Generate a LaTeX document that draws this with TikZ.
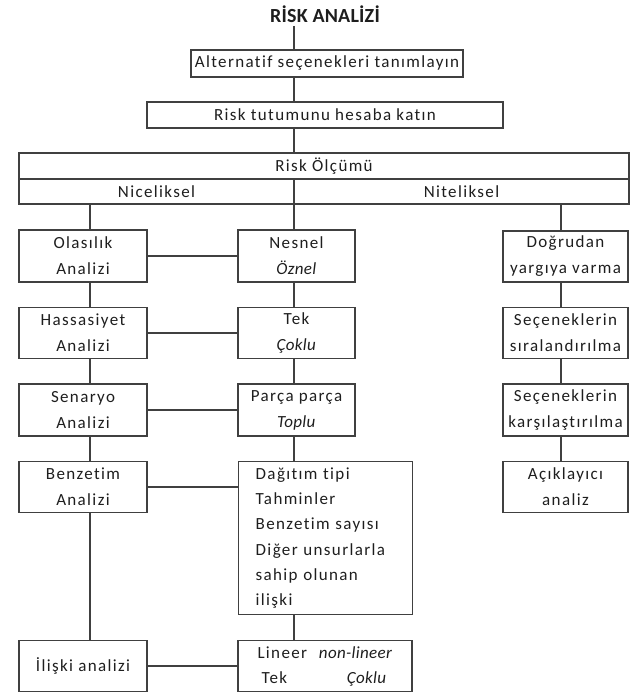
\documentclass[tikz,border=0pt]{standalone}
\usepackage{fontspec}
\setmainfont{Carlito}[LetterSpace=8,Ligatures=NoCommon,ItalicFeatures={LetterSpace=2},BoldFeatures={LetterSpace=1}]
\usetikzlibrary{calc}
\definecolor{ln}{HTML}{404040}
\definecolor{tx}{HTML}{1E1E1E}
\begin{document}
\begin{tikzpicture}[x=1pt,y=-1pt,
  box/.style={draw=ln, line width=1.4pt, inner sep=0pt, align=center, text=tx,
              font=\fontsize{17}{26}\selectfont},
  conn/.style={draw=ln, line width=1.4pt}]
\useasboundingbox (0,0) rectangle (630,697);

% column connector lines
\coordinate (cL) at (90,0);
\coordinate (cM) at (294,0);
\coordinate (cR) at (561,0);

\node[text=tx, font=\bfseries\fontsize{20}{24}\selectfont] (title) at (325,14) {RİSK ANALİZİ};

\node[box, minimum width=272pt, minimum height=27pt] (alt) at (327,63.5) {Alternatif seçenekleri tanımlayın};
\node[box, minimum width=356pt, minimum height=26pt] (tut) at (325,115) {Risk tutumunu hesaba katın};
\node[box, minimum width=610pt, minimum height=26pt] (risk) at (324,166) {Risk Ölçümü};
\node[box, minimum width=275pt, minimum height=25pt] (nic) at (156.5,191.5) {Niceliksel};
\node[box, minimum width=335pt, minimum height=25pt] (nit) at (461.5,191.5) {Niteliksel};

% left column
\node[box, minimum width=128pt, minimum height=52pt] (ola) at (83,256) {Olasılık\\Analizi};
\node[box, minimum width=128pt, minimum height=51pt] (has) at (83,333) {Hassasiyet\\Analizi};
\node[box, minimum width=128pt, minimum height=52pt] (sen) at (83,410) {Senaryo\\Analizi};
\node[box, minimum width=128pt, minimum height=51pt] (ben) at (83,487) {Benzetim\\Analizi};
\node[box, minimum width=128pt, minimum height=51pt] (ili) at (83,666) {İlişki analizi};

% middle column
\node[box, minimum width=117pt, minimum height=52pt] (nes) at (296.5,256) {Nesnel\\\textit{Öznel}};
\node[box, minimum width=117pt, minimum height=51pt] (tek) at (296.5,333) {Tek\\\textit{Çoklu}};
\node[box, minimum width=117pt, minimum height=52pt] (par) at (296.5,410) {Parça parça\\\textit{Toplu}};
\node[box, anchor=north west, text width=140pt, align=left, inner xsep=17pt,
      minimum height=153pt, font=\fontsize{17}{25.3}\selectfont] (dag) at (238,461)
  {Dağıtım tipi\\Tahminler\\Benzetim sayısı\\Diğer unsurlarla\\sahip olunan\\ilişki};
\node[box, text width=135pt, align=left, inner xsep=19.5pt, minimum height=51pt,
      font=\fontsize{17}{25}\selectfont] (lin) at (325,666)
  {\makebox[135pt][l]{Lineer\hfill\textit{non-lineer}}\\
   \makebox[135pt][l]{\hspace{4pt}Tek\hfill\textit{Çoklu}\hspace{6pt}}};

% right column
\node[box, minimum width=125pt, minimum height=51pt] (dog) at (565.5,256.5) {Doğrudan\\yargıya varma};
\node[box, minimum width=125pt, minimum height=51pt] (sir) at (565.5,333) {Seçeneklerin\\sıralandırılma};
\node[box, minimum width=125pt, minimum height=52pt] (kar) at (565.5,410) {Seçeneklerin\\karşılaştırılma};
\node[box, minimum width=125pt, minimum height=51pt] (aci) at (565.5,487) {Açıklayıcı\\analiz};

% top chain
\draw[conn] (title.south -| cM) -- (alt.north -| cM);
\draw[conn] (alt.south -| cM) -- (tut.north -| cM);
\draw[conn] (tut.south -| cM) -- (risk.north -| cM);

% vertical connectors
\draw[conn] (nic.south -| cL) -- (ola.north -| cL);
\draw[conn] (ola.south -| cL) -- (has.north -| cL);
\draw[conn] (has.south -| cL) -- (sen.north -| cL);
\draw[conn] (sen.south -| cL) -- (ben.north -| cL);
\draw[conn] (ben.south -| cL) -- (ili.north -| cL);

\draw[conn] (nic.south -| cM) -- (nes.north -| cM);
\draw[conn] (nes.south -| cM) -- (tek.north -| cM);
\draw[conn] (tek.south -| cM) -- (par.north -| cM);
\draw[conn] (par.south -| cM) -- (dag.north -| cM);
\draw[conn] (dag.south -| cM) -- (lin.north -| cM);

\draw[conn] (nit.south -| cR) -- (dog.north -| cR);
\draw[conn] (dog.south -| cR) -- (sir.north -| cR);
\draw[conn] (sir.south -| cR) -- (kar.north -| cR);
\draw[conn] (kar.south -| cR) -- (aci.north -| cR);

% horizontal connectors
\draw[conn] (ola.east) -- (nes.west);
\draw[conn] (has.east) -- (tek.west);
\draw[conn] (sen.east) -- (par.west);
\draw[conn] (ben.east) -- (ben.east -| dag.west);
\draw[conn] (ili.east) -- (ili.east -| lin.west);
\end{tikzpicture}
\end{document}
